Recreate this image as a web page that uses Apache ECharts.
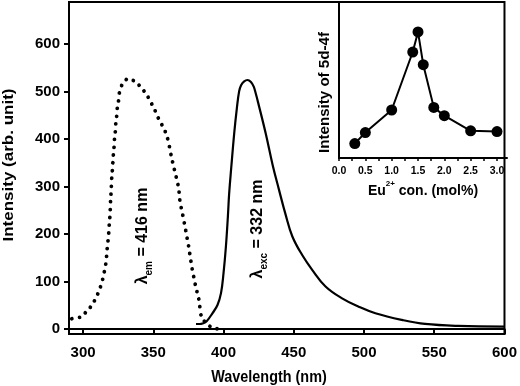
<!DOCTYPE html>
<html><head><meta charset="utf-8">
<script src="https://cdn.jsdelivr.net/npm/echarts@6/dist/echarts.min.js"></script>
<style>html,body{margin:0;padding:0;background:#fff}#c{width:520px;height:386px}</style>
</head><body><div id="c"></div>
<script>
// Dotted curve (monitored at 416 nm)
const dotWavelength = [292,298.6,303.5,307.1,309.7,311.8,313.5,314.7,315.9,316.6,317,317.5,318.2,318.4,318.9,319.3,319.7,320.1,320.6,321.2,321.9,322.7,323.7,324.8,326.2,328.2,331.9,337.4,341.4,345,347.8,350.4,352.8,355.3,358,359.9,361.5,362.7,364.1,365.5,366.9,368.1,368.6,369.1,370.5,371.4,372.6,373.5,374.5,375.5,376.2,377.1,378,379,380.1,381.1,382.3,383,384,385.6,388.7,393.4,398.2];
const dotIntensity = [22,25,39,55,70,85,100,116,133,149,165,181,196,212,228,250,275,300,325,350,380,410,445,475,500,517,527,522,509,495,479,465,447,433,418,402,384,367,349,331,314,297,281,265,249,233,218,202,186,170,155,139,123,109,93,79,64,48,30,18,8,1,1];
// Solid curve (excited at 332 nm)
const solidWavelength = [380.4,383,385,388,392.2,395.7,398.2,400,401.7,403.1,404,405.5,407.6,409.5,411.1,412.5,414.7,417,419.5,421.5,423,424.5,430,435,439.5,444,449,456,463.1,472.6,484.4,496.2,508.1,527,543.5,567.2,600];
const solidIntensity = [11,11,12,17,34,51,76,118,174,237,285,340,412,465,500,513,521,524,520,510,495,478,412,345,293,243,195,156,125,90,65,47.5,33.6,19.6,11.1,6.9,5.5];
// Inset: Eu2+ concentration vs 5d-4f intensity (arb.)
const euConc = [0.3,0.5,1.0,1.4,1.5,1.6,1.8,2.0,2.5,3.0];
const euIntensity = [14.3,25.3,47.7,105.3,125.3,92.7,50.3,42,27,26.3];
// Tick labels
const xTicks = [300,350,400,450,500,550,600];
const yTicks = [0,100,200,300,400,500,600];
const insetLabelTicks = [0,0.5,1,1.5,2,2.5,3];
const insetTickMarks = [0,0.25,0.5,0.75,1,1.25,1.5,1.75,2,2.25,2.5,2.75,3];

const FF = '"Liberation Sans", Arial, sans-serif';
const zip = (a, b) => a.map((v, i) => [v, b[i]]);

const chart = echarts.init(document.getElementById('c'), null, {renderer: 'canvas'});
chart.setOption({
  animation: false,
  backgroundColor: '#fff',
  grid: [
    {left: 69, right: 13, top: 2, bottom: 52, show: true, borderColor: '#000', borderWidth: 2, backgroundColor: 'transparent'},
    {left: 339, right: 13, top: 2, bottom: 228, show: false}
  ],
  xAxis: [
    {gridIndex: 0, type: 'value', min: 290, max: 600,
     axisLine: {show: true, lineStyle: {color: '#000', width: 2}},
     axisTick: {show: true, length: 5, lineStyle: {color: '#000', width: 2}, customValues: xTicks},
     axisLabel: {color: '#000', fontSize: 15, fontWeight: 'bold', fontFamily: FF, margin: 11, customValues: xTicks},
     splitLine: {show: false}},
    {gridIndex: 1, type: 'value', min: 0, max: 3.19,
     axisLine: {show: true, lineStyle: {color: '#000', width: 2}},
     axisTick: {show: true, length: 3, lineStyle: {color: '#000', width: 1.5}, customValues: insetTickMarks},
     axisLabel: {color: '#000', fontSize: 10.5, fontWeight: 'bold', fontFamily: FF, margin: 8, customValues: insetLabelTicks,
       formatter: v => v.toFixed(1)},
     splitLine: {show: false}}
  ],
  yAxis: [
    {gridIndex: 0, type: 'value', min: -10, max: 688,
     axisLine: {show: true, lineStyle: {color: '#000', width: 2}},
     axisTick: {show: true, length: 5, lineStyle: {color: '#000', width: 2}, customValues: yTicks},
     axisLabel: {color: '#000', fontSize: 15, fontWeight: 'bold', fontFamily: FF, margin: 9, customValues: yTicks},
     splitLine: {show: false}},
    {gridIndex: 1, type: 'value', min: 0, max: 155,
     axisLine: {show: true, lineStyle: {color: '#000', width: 2}},
     axisTick: {show: false}, axisLabel: {show: false}, splitLine: {show: false}}
  ],
  series: [
    {type: 'line', xAxisIndex: 0, yAxisIndex: 0, data: zip(dotWavelength, dotIntensity),
     showSymbol: false, smooth: 0.4, smoothMonotone: 'x',
     lineStyle: {color: '#000', width: 3.8, type: [0.01, 7.8], cap: 'round'}},
    {type: 'line', xAxisIndex: 0, yAxisIndex: 0, data: zip(solidWavelength, solidIntensity),
     showSymbol: false, smooth: 0.4,
     lineStyle: {color: '#000', width: 2.2}},
    {type: 'line', xAxisIndex: 1, yAxisIndex: 1, data: zip(euConc, euIntensity),
     symbol: 'circle', symbolSize: 11, itemStyle: {color: '#000'},
     lineStyle: {color: '#000', width: 2}}
  ],
  graphic: [
    {type: 'text', x: 9, y: 165, rotation: Math.PI / 2, scaleY: 0.9,
     style: {text: 'Intensity (arb. unit)', font: 'bold 17px ' + FF, fill: '#000', align: 'center', verticalAlign: 'middle'}},
    {type: 'text', x: 269, y: 378, scaleX: 0.9,
     style: {text: 'Wavelength (nm)', font: 'bold 16px ' + FF, fill: '#000', align: 'center', verticalAlign: 'middle'}},
    {type: 'text', x: 143, y: 236, rotation: Math.PI / 2,
     style: {text: '{a|λ}{b|em}{a| = 416 nm}', align: 'center', verticalAlign: 'middle',
       rich: {a: {fontSize: 16, fontWeight: 'bold', fontFamily: FF, fill: '#000', color: '#000', lineHeight: 22, verticalAlign: 'middle'},
              b: {fontSize: 10, fontWeight: 'bold', fontFamily: FF, fill: '#000', color: '#000', lineHeight: 10, verticalAlign: 'bottom'}}}},
    {type: 'text', x: 258, y: 229, rotation: Math.PI / 2,
     style: {text: '{a|λ}{b|exc}{a| = 332 nm}', align: 'center', verticalAlign: 'middle',
       rich: {a: {fontSize: 16, fontWeight: 'bold', fontFamily: FF, fill: '#000', color: '#000', lineHeight: 22, verticalAlign: 'middle'},
              b: {fontSize: 10, fontWeight: 'bold', fontFamily: FF, fill: '#000', color: '#000', lineHeight: 10, verticalAlign: 'bottom'}}}},
    {type: 'text', x: 325.5, y: 92.5, rotation: Math.PI / 2, scaleX: 1.08,
     style: {text: 'Intensity of 5d-4f', font: 'bold 14px ' + FF, fill: '#000', align: 'center', verticalAlign: 'middle'}},
    {type: 'text', x: 423, y: 189,
     style: {text: '{a|Eu}{s|2+}{a| con. (mol%)}', align: 'center', verticalAlign: 'middle',
       rich: {a: {fontSize: 14, fontWeight: 'bold', fontFamily: FF, fill: '#000', color: '#000', lineHeight: 18, verticalAlign: 'bottom'},
              s: {fontSize: 8, fontWeight: 'bold', fontFamily: FF, fill: '#000', color: '#000', lineHeight: 8, verticalAlign: 'top'}}}}
  ]
});
</script></body></html>
